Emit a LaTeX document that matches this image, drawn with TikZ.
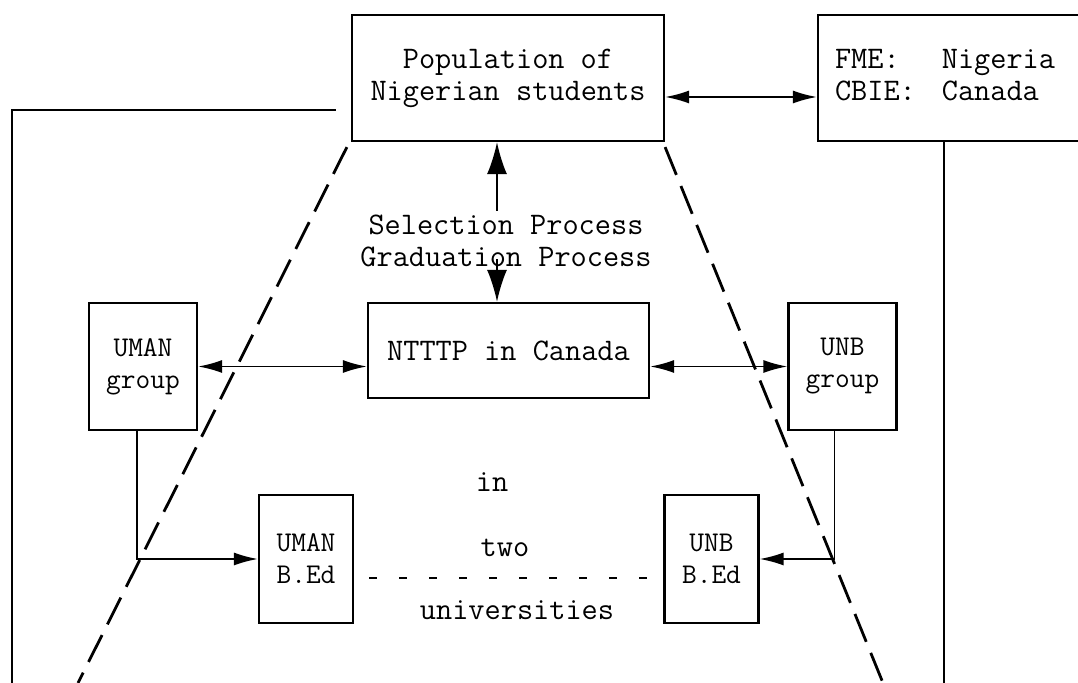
\documentclass[tikz,border=0pt]{standalone}
\usepackage{fontspec}
\usetikzlibrary{positioning, arrows.meta}

\begin{document}
\begin{tikzpicture}[x=0.5pt, y=-0.5pt,
      caisse/.style={draw, line width=1.1pt, inner sep=0pt, align=center,
                     font=\ttfamily\fontsize{15.7}{16}\selectfont},
      petite/.style={caisse, minimum width=54pt, minimum height=63.5pt,
                     font=\ttfamily\fontsize{14.3}{16}\selectfont},
      texte/.style={inner sep=2pt, align=center,
                    font=\ttfamily\fontsize{15.7}{16}\selectfont},
      fleche/.style={line width=0.9pt, >={Latex[length=12pt,width=6.5pt]}},
      grosse/.style={line width=1pt, >={Latex[length=16pt,width=10pt]}},
      cone/.style={line width=1.4pt, dash pattern=on 15pt off 6pt},
      pointille/.style={line width=0.6pt, dash pattern=on 4pt off 11pt},
      ligne/.style={line width=1pt}]
    \useasboundingbox (0,0) rectangle (1078,683);
    % boxes
    \node[caisse, minimum width=156pt, minimum height=63pt] (pop) at (508,78)
         {Population of\\Nigerian students};
    \node[caisse, minimum width=134pt, minimum height=63pt, text width=117pt,
          align=left] (fme) at (952,78)
         {\begin{tabular}{@{}l@{\hspace{13pt}}l@{}}FME: & Nigeria\\CBIE: & Canada\end{tabular}};
    \node[caisse, minimum width=140.5pt, minimum height=47.5pt] (nt) at (508.5,350.5)
         {NTTTP in Canada};
    \node[petite] (umang) at (143,366.5) {UMAN\\group};
    \node[petite] (unbg) at (842.5,366.5) {UNB\\group};
    \node[petite, minimum width=47pt, minimum height=64pt] (umanb) at (306,559) {UMAN\\B.Ed};
    \node[petite, minimum width=47pt, minimum height=64pt] (unbb) at (711.5,559) {UNB\\B.Ed};
    % texts
    \node[texte] (proc) at (506,241) {Selection Process\\Graduation Process};
    \node[texte] (in) at (492,482) {in};
    \node[texte] (two) at (505,548) {two};
    \node[texte] (univ) at (517,610) {universities};
    % arrows
    \coordinate (axe) at ([xshift=-5.5pt]pop.south);
    \draw[grosse, ->] (axe |- proc.north) -- (axe);
    \draw[grosse, ->] ([yshift=6pt]axe |- proc.south) -- (axe |- nt.north);
    \draw[fleche, <->] ([yshift=-9.5pt]pop.east) -- ([yshift=-9.5pt]fme.west);
    \draw[fleche, <->] (umang.east) -- (umang.east -| nt.west);
    \draw[fleche, <->] (nt.east |- unbg.west) -- (unbg.west);
    \draw[fleche, ->] ([xshift=-3pt]umang.south) |- (umanb.west);
    \draw[fleche, ->] ([xshift=-4pt]unbg.south) |- (unbb.east);
    \draw[pointille, shorten <=7.5pt, shorten >=8pt]
         ([yshift=-9.5pt]umanb.east) -- ([yshift=-9.5pt]unbb.west);
    % frame lines
    \coordinate (gbas) at (12,683);
    \coordinate (dbas) at (944,683);
    \draw[ligne] ([xshift=-7.5pt,yshift=-16pt]pop.west) -| (gbas);
    \draw[ligne] (fme.south -| dbas) -- (dbas);
    % cone
    \coordinate (cg) at (78,683);
    \coordinate (cd) at (883,683);
    \draw[cone] ([xshift=-2pt,yshift=-2.5pt]pop.south west) -- (cg);
    \draw[cone] ([yshift=-2.5pt]pop.south east) -- (cd);
  \end{tikzpicture}
\end{document}
